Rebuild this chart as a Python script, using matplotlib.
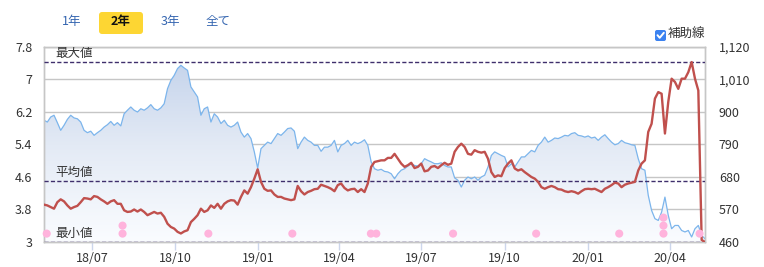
import numpy as np
import pandas as pd
import matplotlib
matplotlib.use('Agg')
import matplotlib.pyplot as plt
import matplotlib.dates as mdates
from matplotlib.colors import LinearSegmentedColormap
from matplotlib.patches import FancyBboxPatch
from matplotlib.lines import Line2D
from matplotlib.ticker import FuncFormatter

plt.rcParams['font.family'] = ['Noto Sans CJK JP', 'DejaVu Sans']

# period shown: about 2 years
start_date = '2018-05-09'
end_date = '2020-05-10'

# share price (right axis)
price = [
    872, 866, 883, 889, 864, 838, 855, 875, 889, 880,
    877, 866, 838, 830, 835, 821, 830, 838, 849, 857,
    868, 855, 864, 853, 894, 906, 917, 906, 900, 911,
    906, 914, 925, 911, 906, 914, 928, 979, 1007, 1024,
    1047, 1058, 1049, 1041, 985, 968, 951, 889, 911, 917,
    866, 894, 883, 861, 872, 855, 849, 855, 866, 832,
    815, 827, 810, 765, 710, 776,
    787, 798, 793, 810, 827, 821, 832, 844, 846, 835,
    776, 798, 815, 804, 798, 787, 787, 767, 781, 781,
    787, 804, 765, 787, 793, 804, 787, 798, 793, 798,
    806, 787, 731, 708, 703, 706, 699, 697, 691, 674,
    691, 703, 708, 717, 725, 719, 717, 725, 742, 736,
    731, 725, 725, 728, 719, 714, 714, 677, 669, 646,
    669, 680, 674, 680, 669, 680,
    686, 714, 753, 765, 759, 753, 748, 714, 725, 714,
    731, 748, 748, 759, 770, 765, 787, 798, 815, 798,
    804, 812, 810, 815, 821, 819, 827, 830, 821, 819,
    815, 819, 812, 815, 804, 815, 823, 810, 798, 789,
    793, 804, 796, 793, 789, 787, 742, 708, 703, 618,
    567, 539, 533, 561, 612, 550, 505, 516, 516, 499,
    494, 499, 477, 505, 516, 482, 471,
]

# dividend yield % (left axis)
yield_pct = [
    3.92, 3.90, 3.86, 3.82, 3.98, 4.05, 4.00, 3.90, 3.82, 3.86,
    3.89, 3.98, 4.08, 4.07, 4.05, 4.13, 4.11, 4.05, 4.00, 3.94,
    4.00, 4.03, 3.94, 3.94, 3.78, 3.74, 3.75, 3.80, 3.75, 3.80,
    3.74, 3.66, 3.70, 3.74, 3.70, 3.72, 3.62, 3.45, 3.37, 3.33,
    3.25, 3.21, 3.26, 3.29, 3.49, 3.57, 3.66, 3.82, 3.74, 3.78,
    3.90, 3.84, 3.94, 3.82, 3.94, 4.00, 4.03, 4.02, 3.92, 4.11,
    4.27, 4.19, 4.35, 4.56, 4.79, 4.48,
    4.31, 4.26, 4.27, 4.17, 4.11, 4.11, 4.07, 4.05, 4.03, 4.05,
    4.38, 4.25, 4.17, 4.23, 4.26, 4.30, 4.31, 4.41, 4.38, 4.35,
    4.31, 4.25, 4.40, 4.44, 4.33, 4.27, 4.30, 4.31, 4.23, 4.30,
    4.23, 4.44, 4.85, 4.97, 4.99, 5.01, 5.01, 5.07, 5.07, 5.17,
    5.05, 4.93, 4.85, 4.89, 4.95, 4.82, 4.85, 4.93, 4.74, 4.76,
    4.85, 4.87, 4.82, 4.89, 4.95, 4.90, 4.93, 5.22, 5.34, 5.42,
    5.34, 5.17, 5.15, 5.26, 5.22, 5.20,
    5.22, 5.05, 4.72, 4.60, 4.64, 4.62, 4.82, 4.93, 5.01, 4.81,
    4.76, 4.79, 4.72, 4.66, 4.60, 4.56, 4.48, 4.35, 4.31, 4.35,
    4.38, 4.35, 4.30, 4.29, 4.25, 4.23, 4.25, 4.23, 4.19, 4.25,
    4.30, 4.31, 4.30, 4.31, 4.27, 4.23, 4.31, 4.35, 4.40, 4.46,
    4.44, 4.35, 4.41, 4.44, 4.46, 4.48, 4.76, 4.93, 5.01, 5.71,
    5.91, 6.53, 6.69, 6.65, 5.67, 6.45, 7.02, 6.94, 6.77, 7.02,
    7.02, 7.18, 7.43, 7.02, 6.73, 3.05, 3.00,
]

# event markers (pink dots) and how many stack on that day
event_dates = ['2018-05-12', '2018-08-04', '2018-11-07', '2019-02-08', '2019-05-06',
               '2019-05-12', '2019-08-05', '2019-11-05', '2020-02-05', '2020-03-25',
               '2020-05-04']
event_counts = [1, 2, 1, 1, 1, 1, 1, 1, 1, 3, 1]

left_ticks = [3, 3.8, 4.6, 5.4, 6.2, 7, 7.8]
right_ticks = [460, 570, 680, 790, 900, 1010, 1120]
x_ticks = ['2018-07-01', '2018-10-01', '2019-01-01', '2019-04-01', '2019-07-01',
           '2019-10-01', '2020-01-01', '2020-04-01']

periods = ['1年', '2年', '3年', '全て']
period_x = [72, 121, 170, 218]
selected = '2年'

dates = pd.date_range(start_date, end_date, periods=len(price))

W, H = 764, 267
fig = plt.figure(figsize=(W / 100, H / 100), dpi=100)
ax = fig.add_axes([44 / W, 1 - 242 / H, 661 / W, 195 / H])
ax2 = ax.twinx()
ax.set_zorder(ax2.get_zorder() + 1)
ax.patch.set_visible(False)

grid_c = '#c6c6c6'
text_c = '#333333'
dash_c = '#3f2f6c'

# price area with vertical gradient
fill = ax2.fill_between(dates, price, 460, facecolor='none', edgecolor='none')
x0, x1 = mdates.date2num(dates[0]), mdates.date2num(dates[-1])
cmap = LinearSegmentedColormap.from_list('g', ['#fafcff', '#e3eaf5', '#c0d0ea'])
grad = np.linspace(0, 1, 256).reshape(-1, 1)
im = ax2.imshow(grad, aspect='auto', cmap=cmap, origin='lower',
                extent=[x0, x1, 460, 1120], zorder=1, interpolation='bilinear')
im.set_clip_path(fill.get_paths()[0], transform=ax2.transData)
ax2.plot(dates, price, color='#7cb5ec', lw=0.9, zorder=2)

ax2.set_ylim(460, 1120)
ax2.set_yticks(right_ticks)
ax2.yaxis.set_major_formatter(FuncFormatter(lambda v, p: f'{int(v):,}'))
ax2.set_axisbelow(True)
ax2.grid(axis='y', color=grid_c, lw=1)
ax2.tick_params(axis='y', length=0, pad=10, labelsize=9, labelcolor=text_c)

# yield line
ax.plot(dates, yield_pct, color='#c0504d', lw=1.7, zorder=4, solid_joinstyle='round')

y_max = np.max(yield_pct)
y_min = np.min(yield_pct)
y_avg = np.mean(yield_pct)
for val, name in [(y_max, '最大値'), (y_avg, '平均値'), (y_min, '最小値')]:
    ax.axhline(val, color=dash_c, lw=1, dashes=(3, 1.6), zorder=3)
    ax.annotate(name, xy=(0.017, val), xycoords=ax.get_yaxis_transform(),
                xytext=(0, 6), textcoords='offset points', va='center', ha='left',
                fontsize=9, color=text_c, zorder=5)

ex, ey = [], []
for d, n in zip(event_dates, event_counts):
    for k in range(n):
        ex.append(pd.Timestamp(d))
        ey.append(0.043 + k * 0.041)
ax.scatter(ex, ey, s=34, color='#ffb3dc', edgecolors='none',
           transform=ax.get_xaxis_transform(), zorder=5, clip_on=False)

ax.set_ylim(3, 7.8)
ax.set_yticks(left_ticks)
ax.yaxis.set_major_formatter(FuncFormatter(lambda v, p: f'{v:g}'))
ax.tick_params(axis='y', length=0, pad=8.5, labelsize=9, labelcolor=text_c)

ax.set_xlim(dates[0], dates[-1])
ax2.set_xlim(dates[0], dates[-1])
ax.set_xticks(pd.to_datetime(x_ticks))
ax.xaxis.set_major_formatter(mdates.DateFormatter('%y/%m'))
ax.tick_params(axis='x', length=6, width=1, color='#ccd6eb', pad=1,
               labelsize=9, labelcolor=text_c)

for a in (ax, ax2):
    for s in a.spines.values():
        s.set_color(grid_c)
        s.set_linewidth(1)

# period buttons
btn = FancyBboxPatch((0.99, 2.33), 0.44, 0.22, boxstyle='round,pad=0,rounding_size=0.03',
                     transform=fig.dpi_scale_trans, facecolor='#fdd633', edgecolor='none')
fig.patches.append(btn)
for p, px in zip(periods, period_x):
    if p == selected:
        fig.text(px / W, 1 - 22 / H, p, ha='center', va='center', fontsize=9,
                 fontweight='bold', color='#111111')
    else:
        fig.text(px / W, 1 - 22 / H, p, ha='center', va='center', fontsize=9,
                 color='#3465b0')

# checkbox
cb = FancyBboxPatch((6.55, 2.26), 0.11, 0.11, boxstyle='round,pad=0,rounding_size=0.02',
                    transform=fig.dpi_scale_trans, facecolor='#3b82f0', edgecolor='none')
fig.patches.append(cb)
fig.lines.append(Line2D([6.575, 6.597, 6.638], [2.318, 2.292, 2.342], color='white', lw=1.4,
                        transform=fig.dpi_scale_trans, solid_capstyle='round'))
fig.text(668 / W, 1 - 34 / H, '補助線', ha='left', va='center', fontsize=9, color=text_c)

fig.savefig('out.png', dpi=100)
